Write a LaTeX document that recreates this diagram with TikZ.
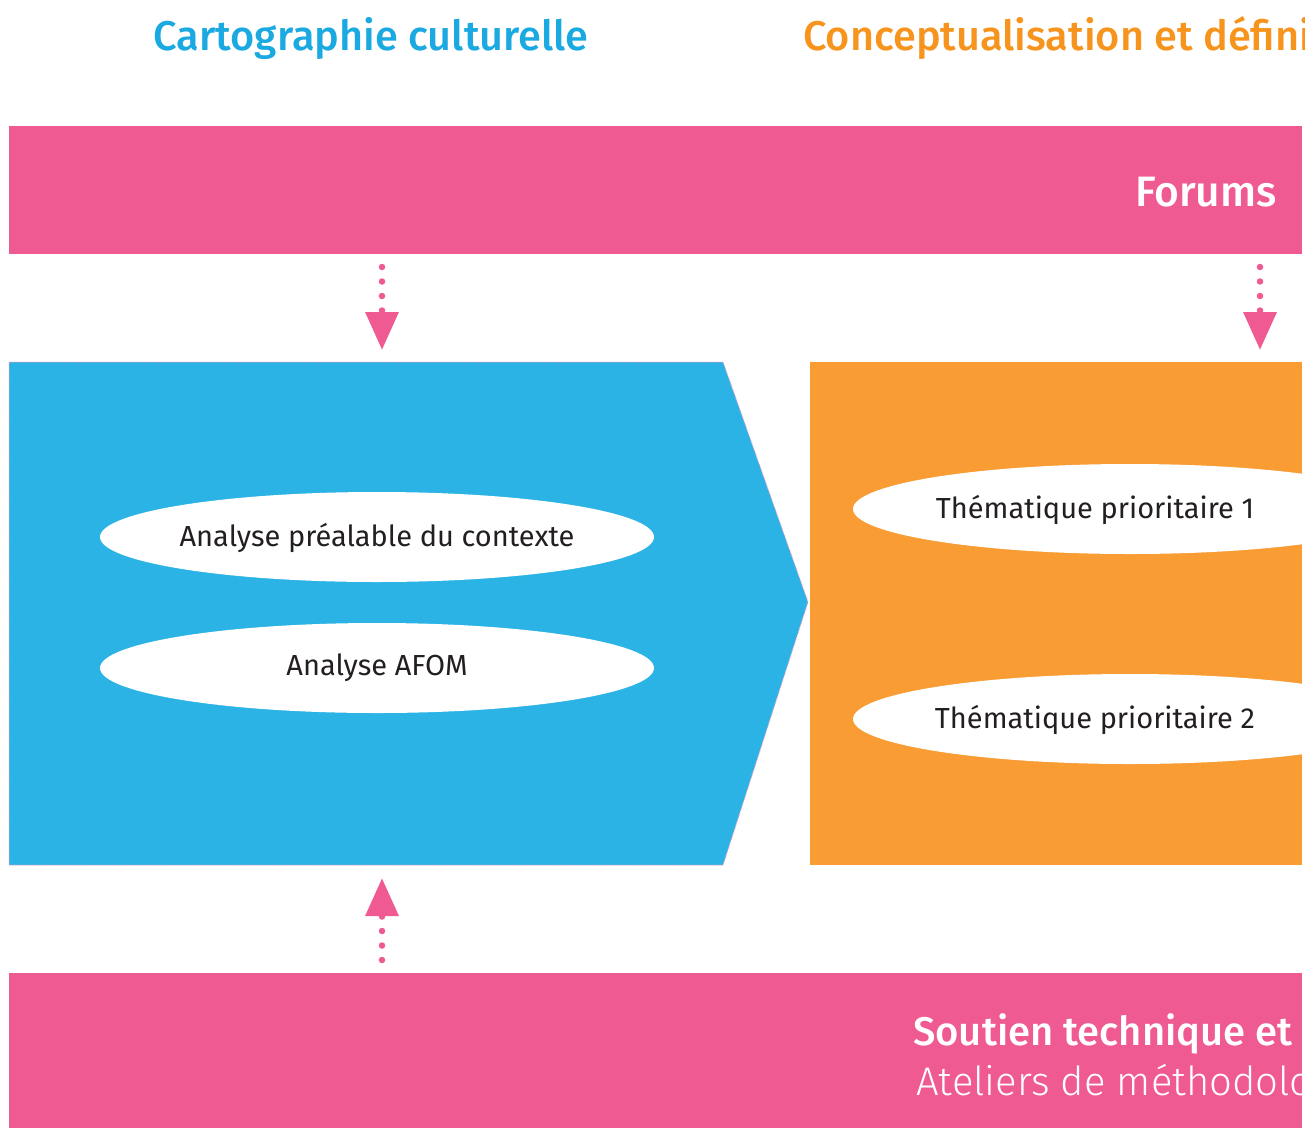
\documentclass[tikz,border=0pt]{standalone}
\usepackage{fontspec}
\setmainfont{Fira Sans}
\newfontfamily\lightfont{Fira Sans Light}
\newfontfamily\mediumfont{Fira Sans Medium}
\usetikzlibrary{shapes.geometric,arrows.meta}
\definecolor{pinkband}{HTML}{EF5A93}
\definecolor{blueshape}{HTML}{2BB3E6}
\definecolor{orangeshape}{HTML}{F89C33}
\definecolor{titleblue}{HTML}{1AA9E0}
\definecolor{titleorange}{HTML}{F7941D}
\definecolor{darktext}{HTML}{231F20}
\tikzset{
  oval/.style={ellipse, fill=white, minimum width=554, minimum height=90, inner sep=0},
  ovaltext/.style={font=\fontsize{29}{32}\selectfont, text=darktext, inner sep=0},
  titletext/.style={font=\mediumfont\fontsize{41.5}{46}\selectfont, inner sep=0},
  bandtext/.style={font=\mediumfont\fontsize{40}{44}\selectfont, text=white, inner sep=0},
  conn/.style={pinkband, line width=6.5, line cap=round, dash pattern=on 0 off 14.5,
    -{Triangle[width=32,length=38,line cap=butt]}},
}
\begin{document}
\begin{tikzpicture}[x=1pt,y=-1pt]
\path[use as bounding box] (0,0) rectangle (1305,1127);
\clip (0,0) rectangle (1305,1127);
% titles
\node[titletext, text=titleblue] (t1) at (371,38) {Cartographie culturelle};
\node[titletext, text=titleorange, anchor=west] (t2) at (803,38) {Conceptualisation et définition};
% top band
\fill[pinkband] (9,126) rectangle (1302,254);
\node[bandtext, anchor=east, font=\mediumfont\fontsize{42.5}{46}\selectfont] (forums) at (1277,192) {Forums};
% blue shape
\fill[blueshape] (9,362) -- (723,362) -- (808,602) -- (723,865) -- (9,865) -- cycle;
\draw[pinkband!60, line width=1, dash pattern=on 1 off 1.5] (9,362) -- (723,362) -- (808,602) -- (723,865) -- (9,865) -- cycle;
% orange rect
\fill[orangeshape] (810,362) rectangle (1302,865);
% ovals
\node[oval] (e1) at (377,537) {};
\node[ovaltext] (e1t) at (377,538) {Analyse préalable du contexte};
\node[oval] (e2) at (377,668) {};
\node[ovaltext] (e2t) at (377,668) {Analyse AFOM};
\node[oval] (e3) at (1130,509) {};
\node[ovaltext] (e3t) at (1095,510) {Thématique prioritaire 1};
\node[oval] (e4) at (1130,719) {};
\node[ovaltext] (e4t) at (1095,720) {Thématique prioritaire 2};
% bottom band
\fill[pinkband] (9,973) rectangle (1302,1135);
\begin{scope}
\clip (9,973) rectangle (1302,1135);
\node[bandtext, anchor=base west] (s1) at (913,1045) {Soutien technique et};
\node[bandtext, anchor=base west, font=\lightfont\fontsize{40}{44}\selectfont] (s2) at (916,1095) {Ateliers de méthodologie};
\end{scope}
% connectors
\coordinate (a1s) at (382,267);
\coordinate (a1e) at (382,350);
\coordinate (a2s) at (1260,267);
\coordinate (a2e) at (1260,350);
\coordinate (a3s) at (382,960);
\coordinate (a3e) at (382,878);
\draw[conn] (a1s) -- (a1e);
\draw[conn] (a2s) -- (a2e);
\draw[conn] (a3s) -- (a3e);
\end{tikzpicture}
\end{document}
